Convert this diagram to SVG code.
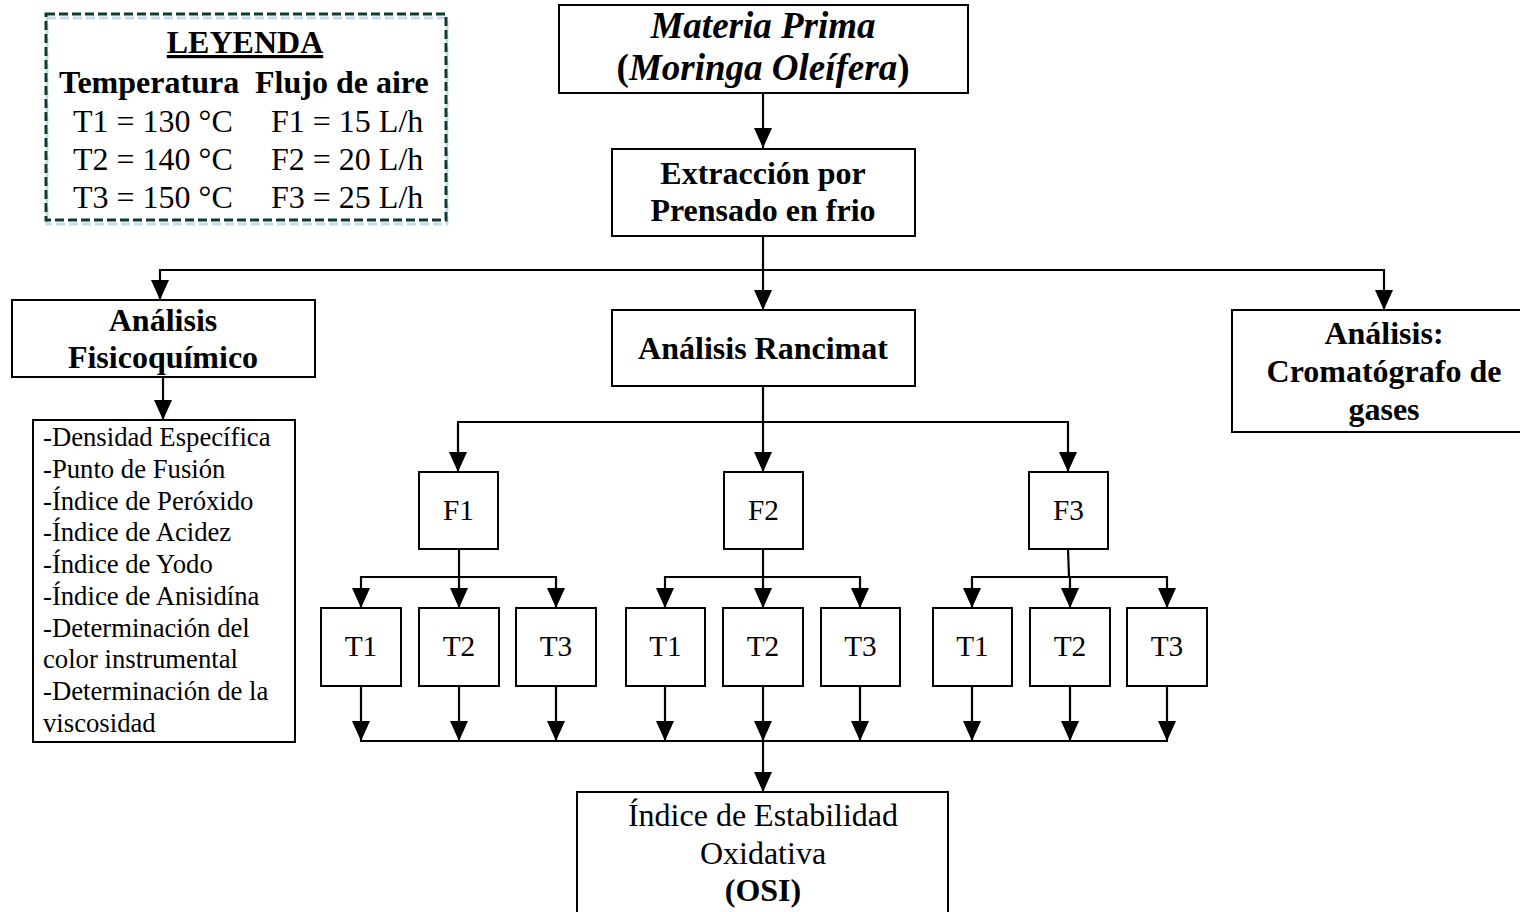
<svg xmlns="http://www.w3.org/2000/svg" width="1520" height="912" viewBox="0 0 1520 912">
<defs>
<marker id="ah" markerUnits="userSpaceOnUse" markerWidth="20" markerHeight="18" refX="20" refY="9" orient="auto">
<path d="M0,0 L20,9 L0,18 z" fill="#000"/>
</marker>
<style>
.box{fill:#fff;stroke:#000;stroke-width:2}
.t{font-family:"Liberation Serif","Times New Roman",serif;fill:#000;text-anchor:middle}
.b{font-weight:bold}
.big{font-size:32px}
.mid{font-size:29.3px}
.sm{font-size:26.7px}
.ln{fill:none;stroke:#000;stroke-width:2.2}
.ar{fill:none;stroke:#000;stroke-width:2.2;marker-end:url(#ah)}
</style>
</defs>
<rect width="1520" height="912" fill="#fff"/>

<g id="leyenda">
<rect x="47" y="18" width="400" height="206" fill="none" stroke="#c6d9f0" stroke-width="3" stroke-dasharray="9,4"/>
<rect x="46" y="14" width="400" height="206" fill="none" stroke="#0e3b30" stroke-width="3" stroke-dasharray="9,4"/>
<text class="t b big" x="245" y="53" text-decoration="underline">LEYENDA</text>
<text class="t b big" x="59" y="93" style="text-anchor:start">Temperatura</text>
<text class="t b big" x="255" y="93" style="text-anchor:start">Flujo de aire</text>
<text class="t big" x="73" y="132" style="text-anchor:start">T1 = 130 °C</text>
<text class="t big" x="271" y="132" style="text-anchor:start">F1 = 15 L/h</text>
<text class="t big" x="73" y="170" style="text-anchor:start">T2 = 140 °C</text>
<text class="t big" x="271" y="170" style="text-anchor:start">F2 = 20 L/h</text>
<text class="t big" x="73" y="208" style="text-anchor:start">T3 = 150 °C</text>
<text class="t big" x="271" y="208" style="text-anchor:start">F3 = 25 L/h</text>
</g>

<g id="connectors">
<line class="ar" x1="763" y1="93" x2="763" y2="148"/>
<line class="ln" x1="763" y1="236" x2="763" y2="270"/>
<line class="ln" x1="159" y1="270" x2="1385" y2="270"/>
<line class="ar" x1="160" y1="270" x2="160" y2="300"/>
<line class="ar" x1="763" y1="270" x2="763" y2="310"/>
<line class="ar" x1="1384" y1="270" x2="1384" y2="310"/>
<line class="ar" x1="163" y1="377" x2="163" y2="420"/>
<line class="ln" x1="763" y1="386" x2="763" y2="422"/>
<line class="ln" x1="457" y1="422" x2="1069" y2="422"/>
<line class="ar" x1="458" y1="422" x2="458" y2="472"/>
<line class="ar" x1="763" y1="422" x2="763" y2="472"/>
<line class="ar" x1="1068" y1="422" x2="1068" y2="472"/>
<line class="ln" x1="459" y1="549" x2="459" y2="577"/>
<line class="ln" x1="360" y1="577" x2="557" y2="577"/>
<line class="ar" x1="361" y1="577" x2="361" y2="608"/>
<line class="ar" x1="459" y1="577" x2="459" y2="608"/>
<line class="ar" x1="556" y1="577" x2="556" y2="608"/>
<line class="ln" x1="763" y1="549" x2="763" y2="577"/>
<line class="ln" x1="664" y1="577" x2="861" y2="577"/>
<line class="ar" x1="665" y1="577" x2="665" y2="608"/>
<line class="ar" x1="763" y1="577" x2="763" y2="608"/>
<line class="ar" x1="860" y1="577" x2="860" y2="608"/>
<line class="ln" x1="1068" y1="549" x2="1069" y2="577"/>
<line class="ln" x1="971" y1="577" x2="1168" y2="577"/>
<line class="ar" x1="972" y1="577" x2="972" y2="608"/>
<line class="ar" x1="1070" y1="577" x2="1070" y2="608"/>
<line class="ar" x1="1167" y1="577" x2="1167" y2="608"/>
<line class="ar" x1="361" y1="686" x2="361" y2="741"/>
<line class="ar" x1="459" y1="686" x2="459" y2="741"/>
<line class="ar" x1="556" y1="686" x2="556" y2="741"/>
<line class="ar" x1="665" y1="686" x2="665" y2="741"/>
<line class="ar" x1="763" y1="686" x2="763" y2="741"/>
<line class="ar" x1="860" y1="686" x2="860" y2="741"/>
<line class="ar" x1="972" y1="686" x2="972" y2="741"/>
<line class="ar" x1="1070" y1="686" x2="1070" y2="741"/>
<line class="ar" x1="1167" y1="686" x2="1167" y2="741"/>
<line class="ln" x1="360" y1="741" x2="1168" y2="741"/>
<line class="ar" x1="763" y1="741" x2="763" y2="792"/>
</g>

<g id="materia">
<rect class="box" x="559" y="5" width="409" height="88"/>
<text class="t b" x="763" y="38" font-size="37" font-style="italic">Materia Prima</text>
<text class="t b" x="763" y="80" font-size="37">(<tspan font-style="italic">Moringa Oleífera</tspan>)</text>
</g>

<g id="extraccion">
<rect class="box" x="612" y="149" width="303" height="87"/>
<text class="t b big" x="763" y="184">Extracción por</text>
<text class="t b big" x="763" y="221">Prensado en frio</text>
</g>

<g id="fisicoquimico">
<rect class="box" x="12" y="300" width="303" height="77"/>
<text class="t b big" x="163" y="331">Análisis</text>
<text class="t b big" x="163" y="368">Fisicoquímico</text>
</g>

<g id="lista">
<rect class="box" x="33" y="420" width="262" height="322"/>
<g class="t sm" style="text-anchor:start">
<text x="43" y="446">-Densidad Específica</text>
<text x="43" y="478">-Punto de Fusión</text>
<text x="43" y="510">-Índice de Peróxido</text>
<text x="43" y="541">-Índice de Acidez</text>
<text x="43" y="573">-Índice de Yodo</text>
<text x="43" y="605">-Índice de Anisidína</text>
<text x="43" y="637">-Determinación del</text>
<text x="43" y="668">color instrumental</text>
<text x="43" y="700">-Determinación de la</text>
<text x="43" y="732">viscosidad</text>
</g>
</g>

<g id="rancimat">
<rect class="box" x="612" y="310" width="303" height="76"/>
<text class="t b big" x="763" y="359">Análisis Rancimat</text>
</g>

<g id="cromatografo">
<rect class="box" x="1232" y="310" width="292" height="122"/>
<text class="t b big" x="1384" y="344">Análisis:</text>
<text class="t b big" x="1384" y="382">Cromatógrafo de</text>
<text class="t b big" x="1384" y="420">gases</text>
</g>

<g id="F1"><rect class="box" x="419" y="472" width="79" height="77"/><text class="t mid" x="458.5" y="520">F1</text></g>
<g id="F2"><rect class="box" x="724" y="472" width="79" height="77"/><text class="t mid" x="763.5" y="520">F2</text></g>
<g id="F3"><rect class="box" x="1029" y="472" width="79" height="77"/><text class="t mid" x="1068.5" y="520">F3</text></g>

<g id="F1T1"><rect class="box" x="321" y="608" width="80" height="78"/><text class="t mid" x="361" y="656">T1</text></g>
<g id="F1T2"><rect class="box" x="419" y="608" width="80" height="78"/><text class="t mid" x="459" y="656">T2</text></g>
<g id="F1T3"><rect class="box" x="516" y="608" width="80" height="78"/><text class="t mid" x="556" y="656">T3</text></g>
<g id="F2T1"><rect class="box" x="626" y="608" width="79" height="78"/><text class="t mid" x="665.5" y="656">T1</text></g>
<g id="F2T2"><rect class="box" x="723" y="608" width="80" height="78"/><text class="t mid" x="763" y="656">T2</text></g>
<g id="F2T3"><rect class="box" x="821" y="608" width="79" height="78"/><text class="t mid" x="860.5" y="656">T3</text></g>
<g id="F3T1"><rect class="box" x="933" y="608" width="79" height="78"/><text class="t mid" x="972.5" y="656">T1</text></g>
<g id="F3T2"><rect class="box" x="1030" y="608" width="80" height="78"/><text class="t mid" x="1070" y="656">T2</text></g>
<g id="F3T3"><rect class="box" x="1127" y="608" width="80" height="78"/><text class="t mid" x="1167" y="656">T3</text></g>

<g id="osi">
<rect class="box" x="577" y="792" width="371" height="125"/>
<text class="t big" x="763" y="826">Índice de Estabilidad</text>
<text class="t big" x="763" y="864">Oxidativa</text>
<text class="t b big" x="763" y="901">(OSI)</text>
</g>
</svg>
